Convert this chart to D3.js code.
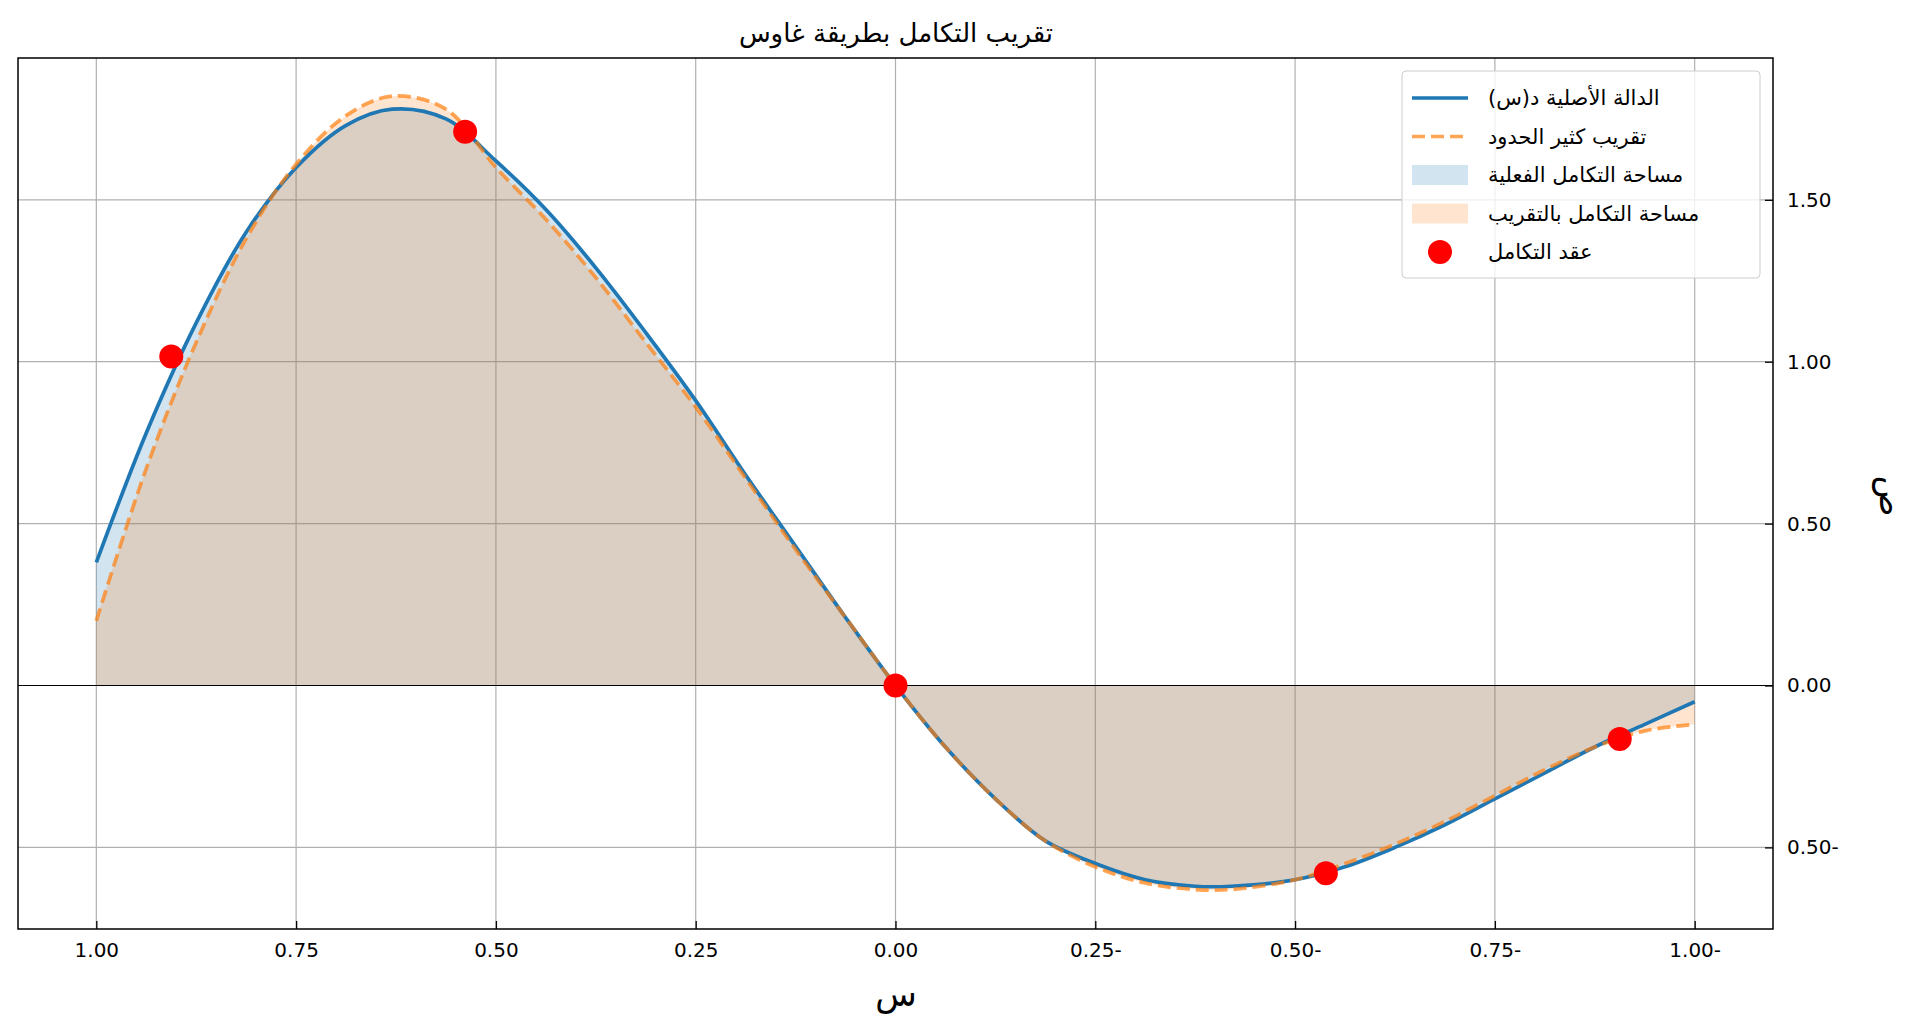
<!DOCTYPE html>
<html><head><meta charset="utf-8">
<script src="https://cdn.jsdelivr.net/npm/d3@7"></script>
<style>body{margin:0;background:#fff;font-family:"DejaVu Sans",sans-serif}</style>
</head><body><svg id="c" width="1920" height="1034"></svg>
<script>
const xs      = [1, 0.9375, 0.875, 0.8125, 0.75, 0.6875, 0.63, 0.5625, 0.5, 0.4375, 0.375, 0.3125, 0.25, 0.1875, 0.125, 0.0625, 0, -0.0625, -0.125, -0.1875, -0.25, -0.3125, -0.375, -0.42, -0.5, -0.5625, -0.625, -0.6875, -0.75, -0.8125, -0.875, -0.9375, -1];
const fTrue   = [0.38, 0.78, 1.12, 1.40, 1.60, 1.73, 1.78, 1.75, 1.62, 1.47, 1.29, 1.09, 0.88, 0.65, 0.43, 0.21, 0, -0.19, -0.35, -0.48, -0.55, -0.60, -0.62, -0.62, -0.60, -0.56, -0.50, -0.43, -0.35, -0.27, -0.19, -0.12, -0.05];
const fPoly   = [0.20, 0.67, 1.06, 1.38, 1.61, 1.76, 1.82, 1.78, 1.60, 1.44, 1.26, 1.06, 0.86, 0.64, 0.42, 0.21, 0, -0.19, -0.35, -0.48, -0.56, -0.61, -0.63, -0.63, -0.60, -0.55, -0.49, -0.42, -0.34, -0.26, -0.19, -0.14, -0.12];
const nodeX   = [0.9062, 0.5385, 0, -0.5385, -0.9062];
const nodeY   = [1.016, 1.71, 0, -0.58, -0.165];
const xTicks  = [1, 0.75, 0.5, 0.25, 0, -0.25, -0.5, -0.75, -1];
const yTicks  = [-0.5, 0, 0.5, 1, 1.5];
const fmt = v => { const s = Math.abs(v).toFixed(2); return v < 0 ? s + "-" : s; };

const svg = d3.select("#c");
const L = 18, R = 1773, T = 58, B = 929;
const x = d3.scaleLinear().domain([1.098, -1.098]).range([L, R]);
const y = d3.scaleLinear().domain([-0.752, 1.938]).range([B, T]);
const pts = a => xs.map((v, i) => [v, a[i]]);

// grid
svg.append("g").selectAll("line").data(xTicks).join("line")
  .attr("x1", d => x(d)).attr("x2", d => x(d)).attr("y1", T).attr("y2", B)
  .attr("stroke", "#b0b0b0").attr("stroke-width", 1.2);
svg.append("g").selectAll("line").data(yTicks).join("line")
  .attr("y1", d => y(d)).attr("y2", d => y(d)).attr("x1", L).attr("x2", R)
  .attr("stroke", "#b0b0b0").attr("stroke-width", 1.2);

const area = d3.area().x(d => x(d[0])).y0(y(0)).y1(d => y(d[1])).curve(d3.curveCatmullRom);
const line = d3.line().x(d => x(d[0])).y(d => y(d[1])).curve(d3.curveCatmullRom);
svg.append("path").attr("d", area(pts(fTrue))).attr("fill", "rgba(31,119,180,0.2)");
svg.append("path").attr("d", area(pts(fPoly))).attr("fill", "rgba(255,127,14,0.2)");
svg.append("line").attr("x1", L).attr("x2", R).attr("y1", y(0)).attr("y2", y(0)).attr("stroke", "#000").attr("stroke-width", 1.2);
svg.append("path").attr("d", line(pts(fTrue))).attr("fill", "none").attr("stroke", "#1f77b4").attr("stroke-width", 3.7);
svg.append("path").attr("d", line(pts(fPoly))).attr("fill", "none").attr("stroke", "#ff7f0e").attr("stroke-opacity", 0.7).attr("stroke-width", 3.7).attr("stroke-dasharray", "13,6");
svg.append("g").selectAll("circle").data(nodeX).join("circle")
  .attr("cx", d => x(d)).attr("cy", (d, i) => y(nodeY[i])).attr("r", 12).attr("fill", "red");

// frame
svg.append("rect").attr("x", L).attr("y", T).attr("width", R - L).attr("height", B - T).attr("fill", "none").attr("stroke", "#000").attr("stroke-width", 1.5);

// axes
const xa = d3.axisBottom(x).tickValues(xTicks).tickFormat(fmt).tickSizeInner(-8).tickSizeOuter(0).tickPadding(14);
const gx = svg.append("g").attr("transform", `translate(0,${B})`).call(xa);
const ya = d3.axisRight(y).tickValues(yTicks).tickFormat(fmt).tickSizeInner(-8).tickSizeOuter(0).tickPadding(14);
const gy = svg.append("g").attr("transform", `translate(${R},0)`).call(ya);
[gx, gy].forEach(g => { g.select(".domain").remove(); g.selectAll("text").attr("font-size", 20).attr("font-family", "DejaVu Sans").attr("fill", "#000"); g.selectAll("line").attr("stroke", "#000").attr("stroke-width", 1.3); });
gy.selectAll("text").attr("text-anchor", "start");

svg.append("text").attr("x", 896).attr("y", 42).attr("text-anchor", "middle").attr("font-size", 26).text("تقريب التكامل بطريقة غاوس");
svg.append("text").attr("x", 896).attr("y", 1006).attr("text-anchor", "middle").attr("font-size", 34).text("س");
svg.append("text").attr("transform", "translate(1880,496) rotate(90)").attr("text-anchor", "middle").attr("font-size", 34).text("ص");

// legend
const lg = svg.append("g").attr("transform", "translate(1402,71)");
lg.append("rect").attr("width", 358).attr("height", 207).attr("rx", 4).attr("fill", "rgba(255,255,255,0.8)").attr("stroke", "#ccc");
const items = ["الدالة الأصلية د(س)", "تقريب كثير الحدود", "مساحة التكامل الفعلية", "مساحة التكامل بالتقريب", "عقد التكامل"];
items.forEach((t, i) => {
  const cy = 27 + i * 38.5;
  const g = lg.append("g");
  if (i === 0) g.append("line").attr("x1", 10).attr("x2", 66).attr("y1", cy).attr("y2", cy).attr("stroke", "#1f77b4").attr("stroke-width", 3.7);
  if (i === 1) g.append("line").attr("x1", 10).attr("x2", 66).attr("y1", cy).attr("y2", cy).attr("stroke", "#ff7f0e").attr("stroke-opacity", 0.7).attr("stroke-width", 3.7).attr("stroke-dasharray", "13,6");
  if (i === 2) g.append("rect").attr("x", 10).attr("y", cy - 10).attr("width", 56).attr("height", 20).attr("fill", "rgba(31,119,180,0.2)");
  if (i === 3) g.append("rect").attr("x", 10).attr("y", cy - 10).attr("width", 56).attr("height", 20).attr("fill", "rgba(255,127,14,0.2)");
  if (i === 4) g.append("circle").attr("cx", 38).attr("cy", cy).attr("r", 12).attr("fill", "red");
  lg.append("text").attr("x", 86).attr("y", cy + 7).attr("font-size", 21).attr("direction", "rtl").attr("text-anchor", "end").text(t);
});
</script></body></html>
